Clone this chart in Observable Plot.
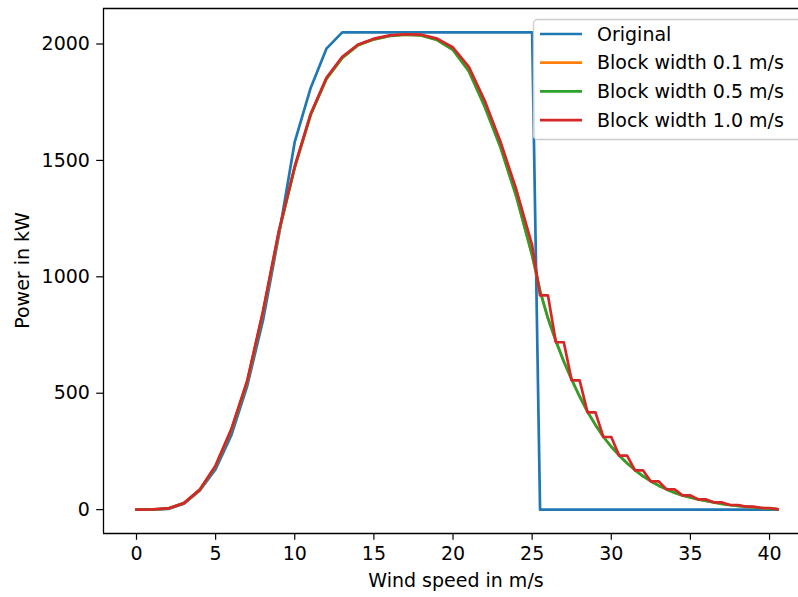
<!DOCTYPE html>
<html><head><meta charset="utf-8">
<script src="https://cdn.jsdelivr.net/npm/d3@7"></script>
<script src="https://cdn.jsdelivr.net/npm/@observablehq/plot@0.6"></script>
<style>
html,body{margin:0;padding:0;background:#fff;overflow:hidden}
#chart svg{overflow:hidden;display:block}
</style></head><body><div id="chart"></div>
<script>
const seriesNames = ["Original", "Block width 0.1 m/s", "Block width 0.5 m/s", "Block width 1.0 m/s"];
const seriesColors = ["#1f77b4", "#ff7f0e", "#2ca02c", "#d62728"];

const originalSpeed = [0,1,2,3,4,5,6,7,8,9,10,11,12,13,14,15,16,17,18,19,20,21,22,23,24,25,25.5,40.5];
const originalPower = [0,0,3,25,82,174,321,532,815,1180,1580,1810,1980,2050,2050,2050,2050,2050,2050,2050,2050,2050,2050,2050,2050,2050,0,0];

const smoothSpeed = [0,1,2,3,4,5,6,7,8,9,10,11,12,13,14,15,16,17,18,19,20,21,22,23,24,25,
  25.5,26,26.5,27,27.5,28,28.5,29,29.5,30,30.5,31,31.5,32,32.5,33,33.5,34,34.5,35,35.5,36,36.5,37,37.5,38,38.5,39,39.5,40,40.5];
const block01Power = [0,0.5,5,28,85,186,343,550,848,1193,1470,1695,1850,1940,1995,2020,2035,2040,2037,2017,1975,1883,1732,1556,1345,1092,
  940,822,724,636,558,486,420,364,313,270,233,199,170,144,122,103,87,73,61,52,44,37,31,25,20,16,13,10,7,4,2];
const block05Power = [0,0.5,5,28,85,186,343,550,848,1193,1470,1695,1850,1940,1995,2020,2035,2040,2037,2017,1975,1883,1732,1556,1345,1092,
  940,822,724,636,558,486,420,364,313,270,233,199,170,144,122,103,87,73,61,52,44,37,31,25,20,16,13,10,7,4,2];
const block10Power = [0,1,5,28,86,190,347,555,855,1199,1475,1699,1855,1945,1998,2023,2037,2042,2040,2023,1985,1902,1757,1580,1375,1135,
  920,920,719,719,555,555,418,418,312,312,232,232,169,169,121,121,87,87,61,61,44,44,31,31,20,20,13,13,7,7,2];

const xTicks = [0,5,10,15,20,25,30,35,40];
const yTicks = [0,500,1000,1500,2000];
const xDomain = [-2.085, 41.83];
const xFullMax = 42.525;
const yDomain = [-102.5, 2152.5];
const xLabel = "Wind speed in m/s";
const yLabel = "Power in kW";

const W = 798, H = 597, mL = 103, mR = 0, mT = 8, mB = 64;
const FONT = "'DejaVu Sans', sans-serif";
const FS = 19;
const LW = 2.7;

const toRows = (xs, ys) => xs.map((x, i) => ({x, y: ys[i]}));
const powers = [originalPower, block01Power, block05Power, block10Power];
const speeds = [originalSpeed, smoothSpeed, smoothSpeed, smoothSpeed];

const plot = Plot.plot({
  width: W, height: H,
  marginLeft: mL, marginRight: mR, marginTop: mT, marginBottom: mB,
  style: {fontFamily: FONT, fontSize: FS + "px", color: "#000", background: "#fff", overflow: "hidden"},
  x: {domain: xDomain},
  y: {domain: yDomain},
  marks: [
    Plot.axisX({ticks: xTicks, tickSize: 6.8, tickPadding: 6.5, label: null, fontSize: FS, strokeWidth: 1.2, tickFormat: d => `${d}`}),
    Plot.axisY({ticks: yTicks, tickSize: 6.8, tickPadding: 6.8, label: null, fontSize: FS, strokeWidth: 1.2, tickFormat: d => `${d}`}),
    ...powers.map((p, i) => Plot.line(toRows(speeds[i], p), {x: "x", y: "y", stroke: seriesColors[i], strokeWidth: LW, strokeLinejoin: "round", strokeLinecap: "square"})),
    Plot.ruleX([xDomain[0]], {stroke: "#000", strokeWidth: 1.3}),
    Plot.ruleY([yDomain[0], yDomain[1]], {stroke: "#000", strokeWidth: 1.3})
  ]
});

const svg = d3.select(plot);
const xs = plot.scale("x"), ys = plot.scale("y");
svg.append("text")
  .attr("x", xs.apply((xDomain[0] + xFullMax) / 2))
  .attr("y", 580).attr("dy", "0.35em")
  .attr("text-anchor", "middle").attr("font-size", FS).attr("font-family", FONT).attr("fill", "#000")
  .text(xLabel);
svg.append("text")
  .attr("transform", `translate(22,${(ys.apply(yDomain[0]) + ys.apply(yDomain[1])) / 2}) rotate(-90)`)
  .attr("dy", "0.35em")
  .attr("text-anchor", "middle").attr("font-size", FS).attr("font-family", FONT).attr("fill", "#000")
  .text(yLabel);

// legend
const lg = svg.append("g");
lg.append("rect").attr("x", 533.5).attr("y", 19.5).attr("width", 280).attr("height", 120).attr("rx", 4)
  .attr("fill", "#fff").attr("fill-opacity", 0.8).attr("stroke", "#cccccc").attr("stroke-width", 1.3);
const row0 = 34, pitch = 28.7;
seriesNames.forEach((name, i) => {
  const cy = row0 + i * pitch;
  lg.append("line").attr("x1", 540).attr("x2", 582).attr("y1", cy).attr("y2", cy)
    .attr("stroke", seriesColors[i]).attr("stroke-width", LW);
  lg.append("text").attr("x", 597).attr("y", cy).attr("dy", "0.35em").attr("text-anchor", "start")
    .attr("font-size", FS).attr("font-family", FONT).attr("fill", "#000").text(name);
});

document.getElementById("chart").appendChild(plot);
</script></body></html>
